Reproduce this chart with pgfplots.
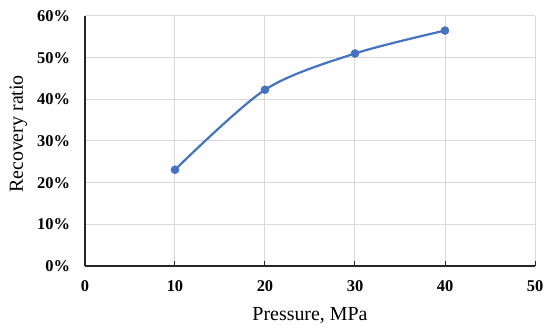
\documentclass[border=0pt]{standalone}
\usepackage{pgfplots}
\pgfplotsset{compat=1.18}
\usepackage{fontspec}
\setmainfont{Liberation Serif}
\definecolor{exblue}{HTML}{4472C4}
\definecolor{gridgray}{HTML}{D9D9D9}
\definecolor{axgray}{HTML}{262626}
\begin{document}
\begin{tikzpicture}[x=1bp,y=1bp]
\useasboundingbox (-85bp,-63bp) rectangle (465bp,266bp);
\begin{axis}[
  at={(0,0)}, anchor=south west,
  scale only axis,
  width=450bp, height=250bp,
  xmin=0, xmax=50, ymin=0, ymax=60,
  xtick={0,10,...,50}, ytick={0,10,...,60},
  axis x line*=bottom, axis y line*=left,
  axis line style={axgray, line width=1.2bp, -},
  grid=major,
  major grid style={gridgray, line width=1bp},
  x tick style={axgray, line width=1bp},
  y tick style={draw=none},
  xtick align=inside,
  major tick length=5bp,
  /pgf/number format/assume math mode=true,
  ticklabel style={font=\fontsize{16.5}{16.5}\selectfont\bfseries},
  xticklabel style={yshift=-11.5bp},
  yticklabel style={xshift=-11.5bp},
  yticklabel={\pgfmathprintnumber{\tick}\%},
  xlabel={Pressure, MPa},
  ylabel={Recovery ratio},
  every axis x label/.style={at={(axis description cs:0.5,-0.216)}, anchor=base, font=\fontsize{20}{20}\selectfont},
  every axis y label/.style={at={(axis description cs:-0.1378,0.528)}, anchor=base, rotate=90, font=\fontsize{20}{20}\selectfont},
  clip=false,
]
\addplot[exblue, line width=2.2bp, smooth, tension=0.5, mark=*, mark size=4bp, mark options={fill=exblue, draw=exblue, line width=0.5bp}]
coordinates {(10,23.1) (20,42.3) (30,51.0) (40,56.5)};
\end{axis}
\end{tikzpicture}
\end{document}
